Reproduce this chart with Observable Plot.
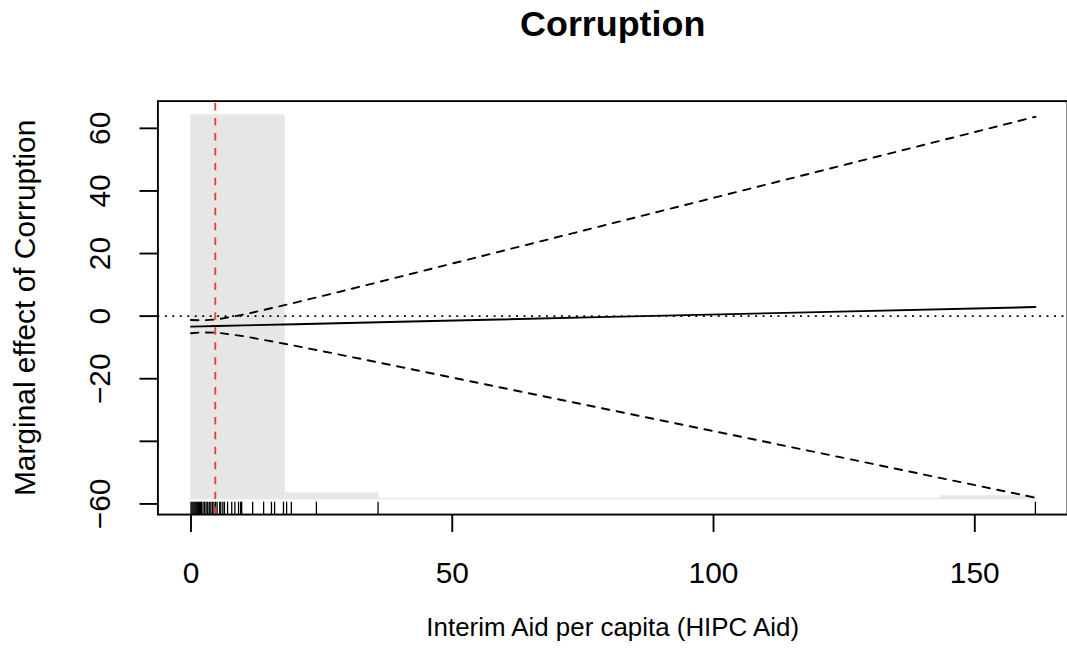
<!DOCTYPE html>
<html><head><meta charset="utf-8">
<script src="https://cdn.jsdelivr.net/npm/d3@7"></script>
<script src="https://cdn.jsdelivr.net/npm/@observablehq/plot@0.6"></script>
<style>
html,body{margin:0;padding:0;background:#fff;overflow:hidden}
#chart{width:1067px;height:671px;overflow:hidden;position:relative}
</style></head><body><div id="chart"></div>
<script>
const title = "Corruption";
const xLabel = "Interim Aid per capita (HIPC Aid)";
const yLabel = "Marginal effect of Corruption";
const xTicks = [0, 50, 100, 150];
const yTicks = [-60, -40, -20, 0, 20, 40, 60];
const yTickLabels = [-60, -20, 0, 20, 40, 60];
const xDomain = [-6.33, 167.74];
const yDomain = [-63.4, 68.7];

// marginal effect and 95% CI
const moderator = [0, 2, 5, 10, 20, 30, 40, 80, 120, 161.6];
const effect    = [-3.35, -3.27, -3.16, -2.96, -2.58, -2.19, -1.80, -0.25, 1.29, 2.90];
const upper     = [-1.23, -1.36, -1.04, 0.46, 4.34, 8.43, 12.6, 29.4, 46.2, 63.7];
const lower     = [-5.47, -5.18, -5.28, -6.38, -9.5, -12.81, -16.2, -29.9, -43.6, -58.0];

// histogram of moderator
const binStart = [0, 18, 35.9, 53.9, 71.8, 89.8, 107.7, 125.7, 143.6];
const binEnd   = [18, 35.9, 53.9, 71.8, 89.8, 107.7, 125.7, 143.6, 161.6];
const binTop   = [64.2, -56.5, -58.3, -58.3, -58.3, -58.3, -58.3, -58.3, -57.5];
const binBase  = -58.6;

// rug of observed moderator values
const rugX = [0, 0.2, 0.4, 0.6, 0.8, 1.0, 1.2, 1.4, 1.6, 1.8, 2.0, 2.3, 2.6, 2.9, 3.2, 3.5, 3.8, 4.1, 4.4, 4.7, 5.0,
  5.5, 5.7, 6.1, 6.4, 7.0, 7.8, 8.4, 9.1, 9.5, 9.7, 11.8, 13.9, 15.4, 16.0, 17.7, 18.3, 19.2, 24.0, 35.8, 161.6];
const meanX = 4.65;

const curve = moderator.map((m, i) => ({m, e: effect[i], u: upper[i], l: lower[i]}));
const bins = binStart.map((s, i) => ({x1: s, x2: binEnd[i], y2: binTop[i]}));
const rugTop = yDomain[0] + 0.03 * (yDomain[1] - yDomain[0]);
const fmt = d => (d < 0 ? "\u2212" + Math.abs(d) : String(d));
const LW = 1.9;

const chart = Plot.plot({
  width: 1071, height: 671,
  marginLeft: 158, marginRight: 0, marginTop: 101, marginBottom: 155,
  style: {fontFamily: "'Liberation Sans', Arial, Helvetica, sans-serif", background: "white", color: "black", overflow: "visible"},
  x: {domain: xDomain},
  y: {domain: yDomain},
  marks: [
    Plot.rect(bins, {x1: "x1", x2: "x2", y1: binBase, y2: "y2", fill: "#e6e6e6", stroke: "#ebebeb", strokeWidth: 0.8}),
    Plot.ruleY([0], {x1: xDomain[0], x2: xDomain[1], stroke: "black", strokeWidth: LW, strokeDasharray: "1.9,5.6"}),
    Plot.line(curve, {x: "m", y: "u", stroke: "black", strokeWidth: LW, strokeDasharray: "7.5,7.5"}),
    Plot.line(curve, {x: "m", y: "l", stroke: "black", strokeWidth: LW, strokeDasharray: "7.5,7.5"}),
    Plot.line(curve, {x: "m", y: "e", stroke: "black", strokeWidth: LW}),
    Plot.ruleX(rugX, {x: d => d, y1: yDomain[0], y2: rugTop, stroke: "black", strokeWidth: 1.3}),
    Plot.ruleX([meanX], {x: d => d, y1: yDomain[0], y2: yDomain[1], stroke: "#f03c3c", strokeWidth: LW, strokeDasharray: "7.5,7.5"}),
    Plot.frame({stroke: "black", strokeWidth: LW}),
    Plot.axisX({ticks: xTicks, tickSize: 18, tickPadding: 29, fontSize: 30, strokeWidth: LW, tickFormat: d => String(d)}),
    Plot.axisY({ticks: yTicks, tickSize: 18, strokeWidth: LW, tickFormat: () => ""}),
    Plot.text(yTickLabels, {y: d => d, text: fmt, frameAnchor: "left", dx: -48, rotate: -90, lineAnchor: "bottom", textAnchor: "middle", fontSize: 30}),
    Plot.text([yLabel], {text: d => d, frameAnchor: "left", dx: -123, rotate: -90, lineAnchor: "bottom", textAnchor: "middle", fontSize: 30}),
    Plot.text([xLabel], {text: d => d, frameAnchor: "bottom", dy: 122, lineAnchor: "bottom", fontSize: 26}),
    Plot.text([title], {text: d => d, frameAnchor: "top", dy: -65, lineAnchor: "bottom", fontSize: 36, fontWeight: "bold"})
  ]
});
document.getElementById("chart").appendChild(chart);
</script>
</body></html>
